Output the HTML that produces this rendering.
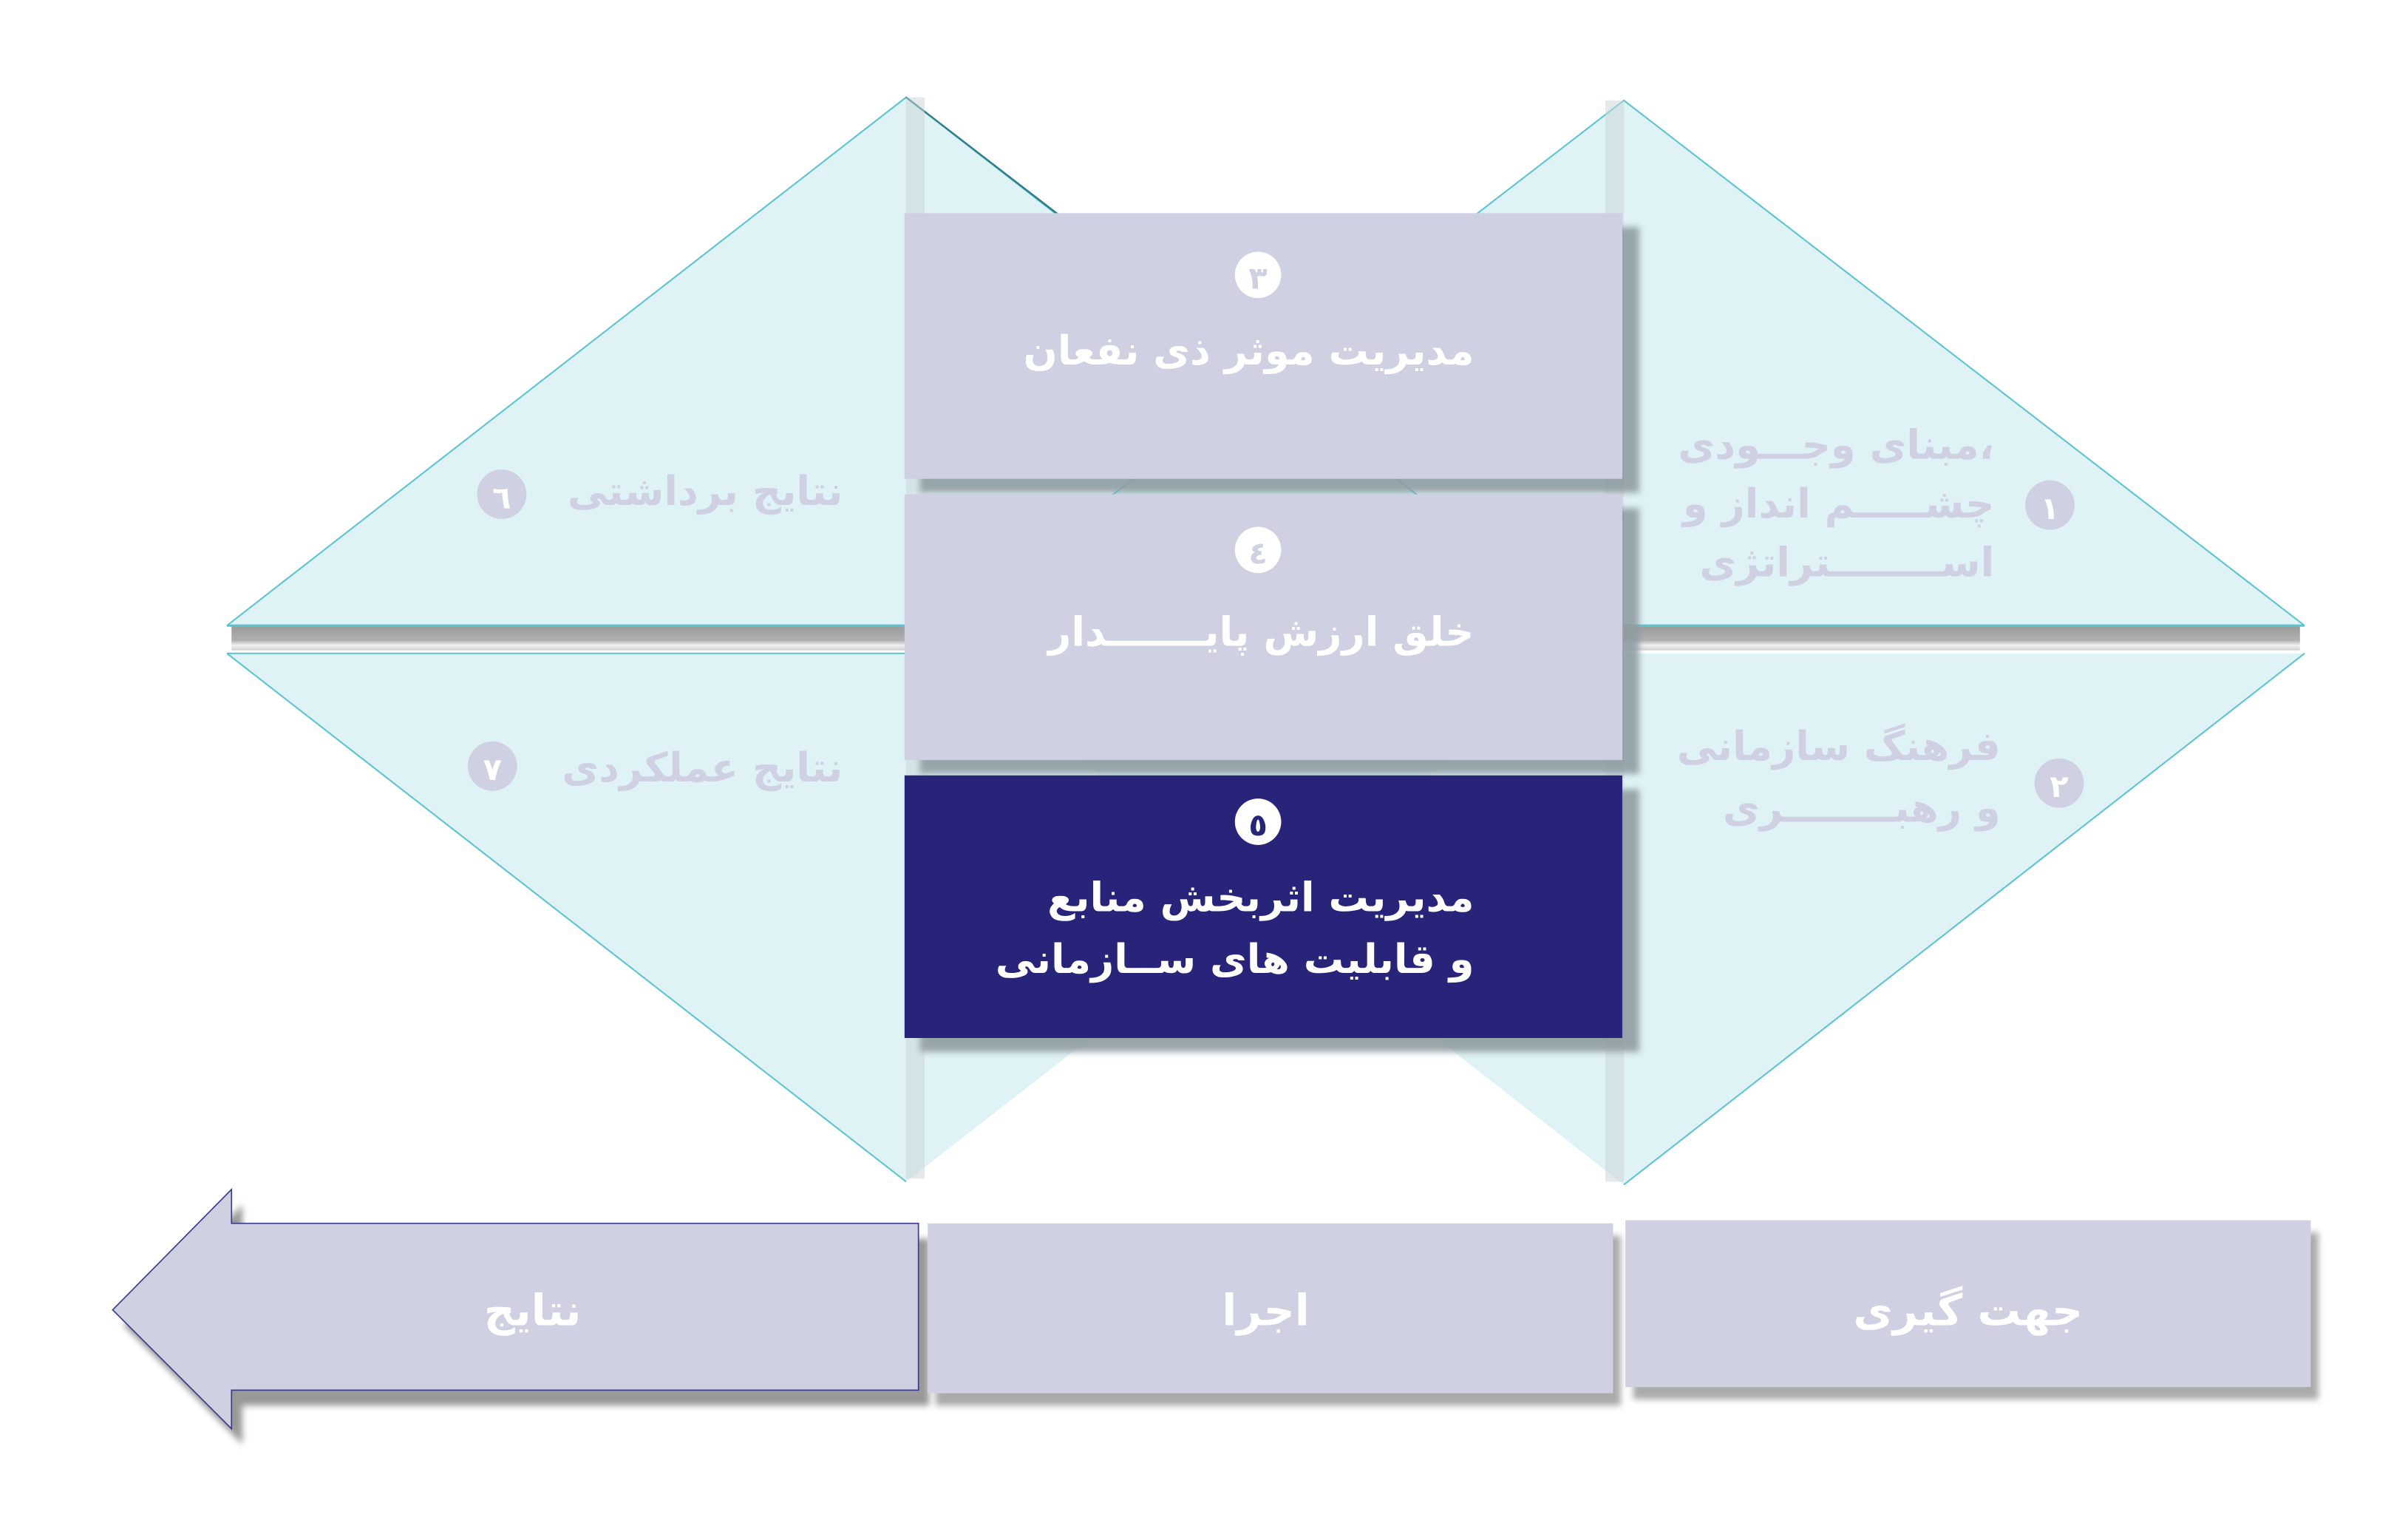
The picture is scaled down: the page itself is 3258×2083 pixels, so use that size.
<!DOCTYPE html>
<html><head><meta charset="utf-8"><style>
html,body{margin:0;padding:0;background:#fff;width:3258px;height:2083px;overflow:hidden}
svg{display:block}
text{font-family:"DejaVu Sans",sans-serif;font-weight:bold}
</style></head><body>
<svg width="3258" height="2083" viewBox="0 0 1560 997" preserveAspectRatio="none" xmlns="http://www.w3.org/2000/svg">
<defs>
<linearGradient id="bar" x1="0" y1="0" x2="0" y2="1">
<stop offset="0" stop-color="#9a9a9a"/><stop offset="0.6" stop-color="#b0b0b0"/><stop offset="0.8" stop-color="#f2f2f2"/><stop offset="1" stop-color="#cfcfcf"/>
</linearGradient>
<filter id="sh" x="-10%" y="-10%" width="130%" height="130%"><feGaussianBlur stdDeviation="2"/></filter>
</defs>
<rect x="150" y="405" width="440" height="16" fill="url(#bar)"/>
<rect x="1052" y="405" width="438" height="16" fill="url(#bar)"/>
<polygon points="147,405 587,63 1027,405" fill="#bfe6ec" fill-opacity="0.5"/>
<polygon points="611,405 1052,65 1493,405" fill="#bfe6ec" fill-opacity="0.5"/>
<polygon points="147,423 587,765 1027,423" fill="#bfe6ec" fill-opacity="0.5"/>
<polygon points="612,423 1052,767 1493,423" fill="#bfe6ec" fill-opacity="0.5"/>
<polyline points="147,405 587,63 1027,405" fill="none" stroke="#5cc4d0" stroke-width="1"/>
<polyline points="611,405 1052,65 1493,405" fill="none" stroke="#5cc4d0" stroke-width="1"/>
<polyline points="147,423 587,765" fill="none" stroke="#5cc4d0" stroke-width="1"/>
<polyline points="1052,767 1493,423" fill="none" stroke="#5cc4d0" stroke-width="1"/>
<line x1="587" y1="63" x2="700" y2="150" stroke="#2f7f8a" stroke-width="1.2"/>
<line x1="147" y1="405" x2="587" y2="405" stroke="#5cc4d0" stroke-width="1.5"/>
<line x1="1052" y1="405" x2="1493" y2="405" stroke="#5cc4d0" stroke-width="1.5"/>
<line x1="147" y1="423" x2="587" y2="423" stroke="#5cc4d0" stroke-width="1"/>
<rect x="587" y="63" width="12" height="700" fill="#c9d6d8" opacity="0.5"/>
<rect x="1040" y="65" width="12" height="700" fill="#c9d6d8" opacity="0.5"/>
<rect x="596" y="147" width="466" height="172" fill="#8f9da2" filter="url(#sh)" opacity="0.9"/>
<rect x="596" y="329" width="466" height="172" fill="#8f9da2" filter="url(#sh)" opacity="0.9"/>
<rect x="596" y="511" width="466" height="170" fill="#8f9da2" filter="url(#sh)" opacity="0.9"/>
<rect x="586" y="138" width="465" height="172" fill="#cfd0e2"/>
<rect x="586" y="320" width="465" height="172" fill="#cfd0e2"/>
<rect x="586" y="502" width="465" height="170" fill="#27247a"/>
<ellipse cx="815" cy="178" rx="15" ry="15" fill="#fff"/>
<text x="815" y="187" font-size="20" fill="#cfd0e2" text-anchor="middle">٣</text>
<ellipse cx="815" cy="356" rx="15" ry="15" fill="#fff"/>
<text x="815" y="365" font-size="20" fill="#cfd0e2" text-anchor="middle">٤</text>
<ellipse cx="815" cy="532" rx="15" ry="15" fill="#fff"/>
<text x="815" y="541" font-size="20" fill="#27247a" text-anchor="middle">٥</text>
<g fill="#fff" font-size="26" text-anchor="end">
<text x="955" y="236">مدیریت موثر ذی نفعان</text>
<text x="955" y="418">خلق ارزش پایـــــــدار</text>
<text x="955" y="590">مدیریت اثربخش منابع</text>
<text x="955" y="630">و قابلیت های ســازمانی</text>
</g>
<g fill="#cfd0e2" font-size="26" text-anchor="end">
<text x="1292" y="297">مبنای وجـــودی،</text>
<text x="1292" y="335">چشـــــم انداز و</text>
<text x="1292" y="373">اســــــــتراتژی</text>
<text x="1296" y="492">فرهنگ سازمانی</text>
<text x="1296" y="532">و رهبــــــــری</text>
<text x="546" y="327">نتایج برداشتی</text>
<text x="546" y="506">نتایج عملکردی</text>
<ellipse cx="1328" cy="327" rx="16" ry="16"/>
<ellipse cx="1334" cy="507" rx="16" ry="16"/>
<ellipse cx="325" cy="320" rx="16" ry="16"/>
<ellipse cx="319" cy="496" rx="16" ry="16"/>
</g>
<g fill="#fff" font-size="20" text-anchor="middle">
<text x="1328" y="336">١</text>
<text x="1334" y="516">٢</text>
<text x="325" y="329">٦</text>
<text x="319" y="505">٧</text>
</g>
<polygon points="80,858 157,780 157,802 602,802 602,910 157,910 157,935" fill="#999" filter="url(#sh)"/>
<rect x="606" y="800" width="444" height="110" fill="#aaa" filter="url(#sh)"/>
<rect x="1058" y="798" width="444" height="108" fill="#aaa" filter="url(#sh)"/>
<polygon points="73,848 150,770 150,792 595,792 595,900 150,900 150,925" fill="#cfd0e2" stroke="#3a3a8a" stroke-width="0.8"/>
<rect x="601" y="792" width="444" height="110" fill="#cfd0e2"/>
<rect x="1053" y="790" width="444" height="108" fill="#cfd0e2"/>
<g fill="#fff" font-size="28" text-anchor="middle">
<text x="345" y="858">نتایج</text>
<text x="820" y="858">اجرا</text>
<text x="1275" y="858">جهت گیری</text>
</g>
</svg>
</body></html>
